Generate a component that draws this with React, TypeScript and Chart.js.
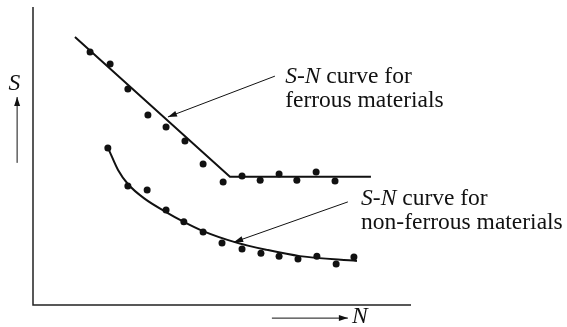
import React, { useEffect, useRef } from "react";
import { Chart, registerables } from "chart.js";

Chart.register(...registerables);

// Abstract units: x = N (0..100), y = S (0..100)
const ferrousX = [15.1, 20.4, 25.1, 30.4, 35.2, 40.2, 45.0, 50.3, 55.3, 60.1, 65.1, 69.8, 74.9, 79.9];
const ferrousY = [84.9, 80.9, 72.5, 63.8, 59.7, 55.0, 47.3, 41.3, 43.3, 41.9, 44.0, 41.9, 44.6, 41.6];

const ferrousFitX = [11.1, 52.1, 89.4];
const ferrousFitY = [89.9, 43.0, 43.0];

const nonFerrousX = [19.8, 25.1, 30.2, 35.2, 39.9, 45.0, 50.0, 55.3, 60.3, 65.1, 70.1, 75.1, 80.2, 84.9];
const nonFerrousY = [52.7, 39.9, 38.6, 31.9, 27.9, 24.5, 20.8, 18.8, 17.4, 16.4, 15.4, 16.4, 13.8, 16.1];

const nonFerrousFitX = [20.1, 22.5, 25.1, 29.6, 35.2, 39.9, 45.0, 53.4, 61.9, 70.6, 85.7];
const nonFerrousFitY = [52.0, 45.3, 40.6, 35.6, 31.2, 27.9, 24.8, 21.1, 18.5, 16.4, 14.8];

const ferrousLabel = ["S-N curve for", "ferrous materials"];
const nonFerrousLabel = ["S-N curve for", "non-ferrous materials"];

const zip = (xs: number[], ys: number[]) => xs.map((x, i) => ({ x, y: ys[i] }));

const FONT = '"Liberation Serif", "Times New Roman", serif';
const FS = 23.5;

function drawArrow(ctx: CanvasRenderingContext2D, x1: number, y1: number, x2: number, y2: number) {
  ctx.beginPath();
  ctx.moveTo(x1, y1);
  ctx.lineTo(x2, y2);
  ctx.stroke();
  const a = Math.atan2(y2 - y1, x2 - x1);
  const L = 9, W = 3;
  ctx.beginPath();
  ctx.moveTo(x2, y2);
  ctx.lineTo(x2 - L * Math.cos(a) + W * Math.sin(a), y2 - L * Math.sin(a) - W * Math.cos(a));
  ctx.lineTo(x2 - L * Math.cos(a) - W * Math.sin(a), y2 - L * Math.sin(a) + W * Math.cos(a));
  ctx.closePath();
  ctx.fill();
}

function drawLabel(ctx: CanvasRenderingContext2D, lines: string[], x: number, y1: number, y2: number) {
  ctx.font = `italic ${FS}px ${FONT}`;
  const it = "S-N";
  ctx.fillText(it, x, y1);
  const w = ctx.measureText(it).width;
  ctx.font = `${FS}px ${FONT}`;
  ctx.fillText(lines[0].slice(3), x + w, y1);
  ctx.fillText(lines[1], x, y2);
}

const annotationPlugin = {
  id: "annot",
  beforeDatasetsDraw(chart: any) {
    const { ctx, chartArea } = chart;
    ctx.save();
    ctx.strokeStyle = "#222";
    ctx.lineWidth = 1.5;
    ctx.beginPath();
    ctx.moveTo(chartArea.left, chartArea.top);
    ctx.lineTo(chartArea.left, chartArea.bottom);
    ctx.lineTo(chartArea.right, chartArea.bottom);
    ctx.stroke();
    ctx.restore();
  },
  afterDraw(chart: any) {
    const { ctx } = chart;
    const xs = chart.scales.x;
    const ys = chart.scales.y;
    const X = (v: number) => xs.getPixelForValue(v);
    const Y = (v: number) => ys.getPixelForValue(v);
    ctx.save();
    ctx.fillStyle = "#111";
    ctx.strokeStyle = "#111";
    ctx.lineWidth = 1;
    ctx.textBaseline = "alphabetic";
    drawArrow(ctx, X(64.0), Y(76.8), X(35.7), Y(63.1));
    drawArrow(ctx, X(83.3), Y(34.6), X(53.2), Y(21.1));
    drawLabel(ctx, ferrousLabel, X(66.7), Y(74.5), Y(66.4));
    drawLabel(ctx, nonFerrousLabel, X(86.8), Y(33.6), Y(25.5));
    drawArrow(ctx, X(-4.2), Y(47.7), X(-4.2), Y(69.8));
    drawArrow(ctx, X(63.2), Y(-4.4), X(83.3), Y(-4.4));
    ctx.font = `italic ${FS}px ${FONT}`;
    ctx.fillText("S", X(-6.5), Y(72.1));
    ctx.fillText("N", X(84.4), Y(-6.0));
    ctx.restore();
  },
};

export default function App() {
  const ref = useRef<HTMLCanvasElement>(null);
  useEffect(() => {
    document.body.style.margin = "0";
    const chart = new Chart(ref.current!, {
      type: "scatter",
      data: {
        datasets: [
          {
            data: zip(ferrousFitX, ferrousFitY),
            showLine: true,
            borderColor: "#111",
            borderWidth: 2,
            pointRadius: 0,
            clip: false as any,
          },
          {
            data: zip(nonFerrousFitX, nonFerrousFitY),
            showLine: true,
            borderColor: "#111",
            borderWidth: 2,
            pointRadius: 0,
            cubicInterpolationMode: "monotone",
            clip: false as any,
          },
          {
            data: zip(ferrousX, ferrousY),
            backgroundColor: "#111",
            borderColor: "#111",
            pointRadius: 3.5,
            borderWidth: 0,
            clip: false as any,
          },
          {
            data: zip(nonFerrousX, nonFerrousY),
            backgroundColor: "#111",
            borderColor: "#111",
            pointRadius: 3.5,
            borderWidth: 0,
            clip: false as any,
          },
        ],
      },
      options: {
        responsive: false,
        animation: false,
        devicePixelRatio: 1,
        layout: { padding: { left: 33, top: 7, right: 156, bottom: 22 } },
        plugins: { legend: { display: false }, tooltip: { enabled: false } },
        scales: {
          x: { type: "linear", min: 0, max: 100, display: false },
          y: { type: "linear", min: 0, max: 100, display: false },
        },
      },
      plugins: [annotationPlugin],
    });
    return () => chart.destroy();
  }, []);
  return <canvas ref={ref} width={567} height={327} style={{ display: "block" }} />;
}
